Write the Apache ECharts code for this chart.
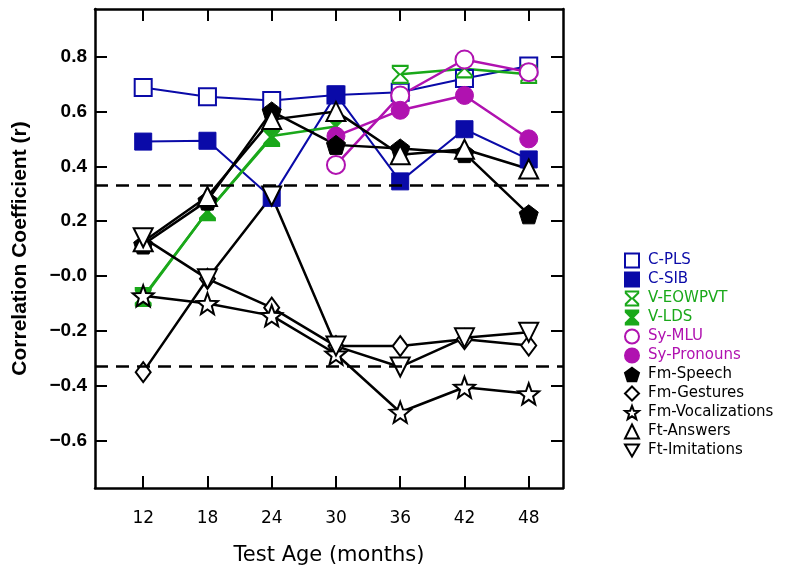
<!DOCTYPE html>
<html lang="en">
<head>
<meta charset="UTF-8">
<title>Correlation by test age</title>
<style>
  html, body { margin: 0; padding: 0; background: #fff; }
  #chart { width: 800px; height: 571px; }
</style>
</head>
<body>
<div id="chart"></div>
<script src="https://cdn.jsdelivr.net/npm/echarts@6/dist/echarts.min.js"></script>
<script>
// test ages (months)
const ages = [12, 18, 24, 30, 36, 42, 48];
const yTicks = [-0.6, -0.4, -0.2, 0, 0.2, 0.4, 0.6, 0.8];
const threshold = 0.33;

// correlation values
const cPLS     = [0.687, 0.653, 0.640, 0.660, 0.670, 0.720, 0.765];
const cSIB     = [0.490, 0.493, 0.285, 0.662, 0.345, 0.535, 0.425];
const vEOWPVT  = [-0.075, 0.235, 0.505, null, 0.735, 0.755, 0.735];
const vLDS     = [-0.080, 0.235, 0.510, 0.545, null, null, null];
const syMLU    = [null, null, null, 0.405, 0.658, 0.789, 0.743];
const syPron   = [null, null, null, 0.510, 0.604, 0.658, 0.500];
const fmSpeech = [0.115, 0.275, 0.600, 0.478, 0.465, 0.448, 0.225];
const fmGest   = [-0.350, -0.010, -0.115, -0.255, -0.255, -0.230, -0.253];
const fmVocal  = [-0.072, -0.100, -0.144, -0.284, -0.496, -0.405, -0.429];
const ftAns    = [0.125, 0.290, 0.570, 0.600, 0.442, 0.462, 0.390];
const ftImit   = [0.140, -0.010, 0.292, -0.255, -0.331, -0.225, -0.205];

const BLUE = '#0a0aa8', GREEN = '#1aa81a', MAG = '#b012b0', BLK = '#000';

// marker shapes
function starPath() {
  let p = [];
  for (let i = 0; i < 10; i++) {
    const r = i % 2 === 0 ? 10 : 4.2;
    const a = -Math.PI / 2 + i * Math.PI / 5;
    p.push((r * Math.cos(a)).toFixed(2) + ',' + (r * Math.sin(a)).toFixed(2));
  }
  return 'path://M' + p.join(' L') + ' Z';
}
const STAR = starPath();
const PENT = 'path://M0,-10 L9.51,-3.09 L5.88,8.09 L-5.88,8.09 L-9.51,-3.09 Z';
const HOUR = 'path://M-8,-9 L8,-9 L8,-7 L1,0 L8,7 L8,9 L-8,9 L-8,7 L-1,0 L-8,-7 Z';
const DOWN = 'path://M-10,-8 L10,-8 L0,9 Z';

function mk(name, data, color, symbol, size, open, lw) {
  return {
    name: name,
    type: 'line',
    data: ages.map((a, i) => [a, data[i]]),
    symbol: symbol,
    symbolSize: size,
    connectNulls: false,
    lineStyle: { color: color, width: lw || 2.5 },
    itemStyle: open
      ? { color: '#fff', borderColor: color, borderWidth: 2 }
      : { color: color, borderColor: color, borderWidth: 1 },
    emphasis: { disabled: true }
  };
}

const series = [
  mk('C-PLS', cPLS, BLUE, 'rect', 17, true, 2),
  mk('C-SIB', cSIB, BLUE, 'rect', 17, false, 2),
  mk('V-EOWPVT', vEOWPVT, GREEN, HOUR, [15, 17], true),
  mk('V-LDS', vLDS, GREEN, HOUR, [15, 17], false),
  mk('Sy-MLU', syMLU, MAG, 'circle', 18, true),
  mk('Sy-Pronouns', syPron, MAG, 'circle', 18, false),
  mk('Fm-Speech', fmSpeech, BLK, PENT, 19, false),
  mk('Fm-Gestures', fmGest, BLK, 'diamond', [15, 20], true),
  mk('Fm-Vocalizations', fmVocal, BLK, STAR, 21, true),
  mk('Ft-Answers', ftAns, BLK, 'triangle', 19, true),
  mk('Ft-Imitations', ftImit, BLK, DOWN, 19, true)
];

// dashed significance lines
series[0].markLine = {
  silent: true,
  symbol: 'none',
  label: { show: false },
  lineStyle: { color: '#000', width: 2.5, type: [13, 8] },
  data: [{ yAxis: threshold }, { yAxis: -threshold }]
};

const legendColors = [BLUE, BLUE, GREEN, GREEN, MAG, MAG, BLK, BLK, BLK, BLK, BLK];

const fmtY = v => (v <= 0 ? '\u2212' : '') + Math.abs(v).toFixed(1);

const tickStyle = { show: true, inside: true, length: 12, lineStyle: { color: '#000', width: 2 } };
const frameLine = { show: true, onZero: false, lineStyle: { color: '#000', width: 2.5 } };

const option = {
  animation: false,
  backgroundColor: '#fff',
  grid: { left: 95, right: 237, top: 9, bottom: 82 },
  legend: {
    orient: 'vertical',
    left: 619,
    top: 247,
    itemWidth: 14,
    itemHeight: 14,
    itemGap: 2,
    selectedMode: false,
    data: series.map((s, i) => ({
      name: s.name,
      icon: s.symbol,
      textStyle: { color: legendColors[i] }
    })),
    textStyle: { fontFamily: 'DejaVu Sans', fontSize: 15, lineHeight: 17, padding: [0, 0, 0, 4] }
  },
  xAxis: [
    {
      type: 'value', min: 7.5, max: 51.2,
      name: 'Test Age (months)', nameLocation: 'middle', nameGap: 57,
      nameTextStyle: { fontFamily: 'DejaVu Sans', fontSize: 21, color: '#000' },
      axisLine: frameLine,
      axisTick: Object.assign({ customValues: ages }, tickStyle),
      axisLabel: { customValues: ages, margin: 22, color: '#000', fontFamily: 'DejaVu Sans', fontSize: 17 },
      splitLine: { show: false }
    },
    {
      type: 'value', position: 'top', min: 7.5, max: 51.2,
      axisLine: frameLine,
      axisTick: Object.assign({ customValues: ages }, tickStyle),
      axisLabel: { show: false },
      splitLine: { show: false }
    }
  ],
  yAxis: [
    {
      type: 'value', min: -0.772, max: 0.973,
      name: 'Correlation Coefficient (r)', nameLocation: 'middle', nameGap: 64,
      nameTextStyle: { fontFamily: 'Liberation Sans', fontWeight: 'bold', fontSize: 21, color: '#000' },
      axisLine: frameLine,
      axisTick: Object.assign({ customValues: yTicks }, tickStyle),
      axisLabel: {
        customValues: yTicks, margin: 8, color: '#000',
        fontFamily: 'Liberation Sans', fontWeight: 'bold', fontSize: 19,
        formatter: fmtY
      },
      splitLine: { show: false }
    },
    {
      type: 'value', position: 'right', min: -0.772, max: 0.973,
      axisLine: frameLine,
      axisTick: Object.assign({ customValues: yTicks }, tickStyle),
      axisLabel: { show: false },
      splitLine: { show: false }
    }
  ],
  series: series
};

const chart = echarts.init(document.getElementById('chart'), null, { renderer: 'canvas' });
chart.setOption(option);
</script>
</body>
</html>
